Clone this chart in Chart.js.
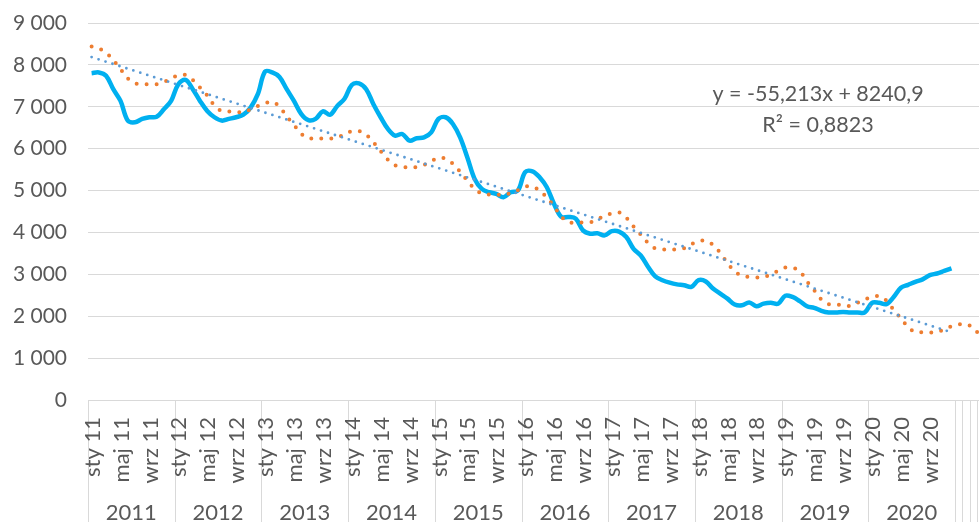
<!DOCTYPE html>
<html>
<head>
<meta charset="utf-8">
<script src="https://cdn.jsdelivr.net/npm/chart.js@4.4.1/dist/chart.umd.min.js"></script>
<style>
  html, body { margin: 0; padding: 0; background: #fff; overflow: hidden; }
  /* plot runs slightly past the right edge of the window, as in the source */
  #wrap { position: relative; width: 984px; height: 522px; }
</style>
</head>
<body>
<div id="wrap"><canvas id="c"></canvas></div>
<script>
// months shown on the axis, years shown in the second row
const monthNames = ['sty', 'lut', 'mar', 'kwi', 'maj', 'cze', 'lip', 'sie', 'wrz', 'paź', 'lis', 'gru'];
const years = ['2011', '2012', '2013', '2014', '2015', '2016', '2017', '2018', '2019', '2020'];
const extraMonths = 4; // blank categories after 2020

// monthly series (solid blue), Jan 2011 - Dec 2020
const blueValues = [
  7800, 7820, 7740, 7420, 7140, 6670, 6630, 6710, 6750, 6760, 6940, 7140,
  7540, 7640, 7420, 7140, 6900, 6750, 6670, 6710, 6750, 6810, 6980, 7300,
  7840, 7820, 7710, 7420, 7140, 6830, 6680, 6710, 6890, 6810, 7020, 7190,
  7520, 7560, 7420, 7060, 6750, 6470, 6310, 6350, 6190, 6250, 6270, 6390,
  6710, 6750, 6590, 6270, 5790, 5280, 5040, 4960, 4920, 4840, 4960, 5000,
  5440, 5460, 5320, 5080, 4680, 4370, 4370, 4330, 4050, 3970, 3980, 3930,
  4030, 4020, 3890, 3610, 3450, 3180, 2950, 2860, 2800, 2760, 2740, 2700,
  2860, 2830, 2660, 2540, 2420, 2280, 2260, 2330, 2240, 2300, 2320, 2300,
  2490, 2460, 2360, 2240, 2200, 2130, 2090, 2090, 2100, 2090, 2090, 2090,
  2320, 2320, 2290, 2460, 2680, 2750, 2820, 2880, 2980, 3020, 3080, 3140
];

// second series (orange dotted), Jan 2011 - Apr 2021
const orangeValues = [
  8440, 8390, 8290, 8110, 7900, 7680, 7560, 7540, 7540, 7540, 7590, 7680,
  7750, 7760, 7640, 7460, 7270, 7030, 6900, 6890, 6885, 6865, 6940, 7020,
  7080, 7120, 7000, 6770, 6570, 6360, 6250, 6250, 6240, 6240, 6270, 6340,
  6420, 6420, 6330, 6150, 5940, 5740, 5605, 5570, 5545, 5565, 5615, 5700,
  5780, 5760, 5640, 5450, 5240, 5040, 4930, 4905, 4905, 4890, 4940, 5010,
  5095, 5095, 5000, 4830, 4620, 4380, 4240, 4240, 4240, 4240, 4310, 4400,
  4450, 4480, 4350, 4140, 3950, 3750, 3620, 3595, 3590, 3595, 3620, 3720,
  3790, 3800, 3700, 3510, 3270, 3070, 2970, 2935, 2922, 2935, 3000, 3080,
  3160, 3160, 3080, 2830, 2620, 2400, 2290, 2278, 2270, 2245, 2320, 2400,
  2450, 2480, 2370, 2150, 1950, 1740, 1615, 1617, 1612, 1630, 1680, 1760,
  1805, 1815, 1722, 1532
];

// linear trend of the blue series (ends of the line)
const trendStart = 8186;
const trendEnd = 1615;
const trendLabel = ['y = -55,213x + 8240,9', 'R² = 0,8823'];

const categories = [];
years.forEach(function (y) {
  monthNames.forEach(function (m) { categories.push(m + ' ' + y.slice(2)); });
});
for (let i = 0; i < extraMonths; i++) categories.push('');

const trendValues = categories.map(function () { return null; });
trendValues[0] = trendStart;
trendValues[blueValues.length - 1] = trendEnd;

const TEXT = '#595959';
const GRID = '#d9d9d9';
const FONT = 'Lato';

function fmt(v) {
  return String(v).replace(/\B(?=(\d{3})+(?!\d))/g, ' ');
}

// two-level category axis (months + years), separators and the trend equation
const yearAxisPlugin = {
  id: 'yearAxis',
  afterDraw: function (chart) {
    const ctx = chart.ctx;
    const x = chart.scales.x;
    const area = chart.chartArea;
    const step = x.getPixelForValue(1) - x.getPixelForValue(0);
    const bounds = years.map(function (_, k) { return 12 * k; });
    for (let i = 0; i < extraMonths; i++) bounds.push(years.length * 12 + i);
    ctx.save();
    ctx.strokeStyle = GRID;
    ctx.lineWidth = 1;
    bounds.forEach(function (b) {
      const px = Math.round(x.getPixelForValue(b) - step / 2) + 0.5;
      ctx.beginPath();
      ctx.moveTo(px, area.bottom);
      ctx.lineTo(px, chart.height);
      ctx.stroke();
    });
    ctx.fillStyle = TEXT;

    // month labels: every 4th month, rotated
    ctx.font = '22px ' + FONT;
    ctx.textAlign = 'right';
    ctx.textBaseline = 'middle';
    categories.forEach(function (lab, i) {
      if (i % 4 !== 0 || !lab) return;
      ctx.save();
      ctx.translate(x.getPixelForValue(i) + 1, area.bottom + 17);
      ctx.rotate(-Math.PI / 2);
      ctx.fillText(lab, 0, 0);
      ctx.restore();
    });

    ctx.font = '22px ' + FONT;
    ctx.textAlign = 'center';
    years.forEach(function (yr, k) {
      const cx = (x.getPixelForValue(12 * k) + x.getPixelForValue(12 * k + 11)) / 2;
      ctx.fillText(yr, cx, 513);
    });
    ctx.font = '21.5px ' + FONT;
    ctx.fillText(trendLabel[0], 818, 94);
    ctx.fillText(trendLabel[1], 818, 125);
    ctx.restore();
  }
};

new Chart(document.getElementById('c'), {
  type: 'line',
  data: {
    labels: categories,
    datasets: [
      {
        label: 'seria 1',
        data: blueValues,
        borderColor: '#00B0F0',
        borderWidth: 4.5,
        pointRadius: 0,
        tension: 0.35,
        order: 2
      },
      {
        label: 'seria 2',
        data: orangeValues,
        borderColor: '#ED7D31',
        borderWidth: 4,
        borderDash: [0, 10],
        borderCapStyle: 'round',
        pointRadius: 0,
        tension: 0.35,
        order: 1
      },
      {
        label: 'Liniowy',
        data: trendValues,
        spanGaps: true,
        borderColor: '#5B9BD5',
        borderWidth: 2.8,
        borderDash: [0, 7.3],
        borderCapStyle: 'round',
        pointRadius: 0,
        order: 0
      }
    ]
  },
  options: {
    responsive: true,
    maintainAspectRatio: false,
    animation: false,
    layout: { padding: { top: 23, right: 0, left: 0, bottom: 0 } },
    plugins: { legend: { display: false }, tooltip: { enabled: false } },
    scales: {
      x: {
        offset: true,
        grid: { display: false },
        border: { display: false },
        ticks: { display: false },
        afterFit: function (s) {
          s.height = 122;
          s.paddingLeft = 0;
          s.paddingRight = 0;
        }
      },
      y: {
        min: 0,
        max: 9000,
        grid: { color: GRID, drawTicks: false },
        border: { display: false },
        ticks: {
          stepSize: 1000,
          padding: 21,
          color: TEXT,
          font: { family: FONT, size: 21 },
          callback: function (v) { return fmt(v); }
        },
        afterFit: function (s) {
          s.width = 88;
          s.paddingTop = 0;
          s.paddingBottom = 0;
        }
      }
    }
  },
  plugins: [yearAxisPlugin]
});
</script>
</body>
</html>
